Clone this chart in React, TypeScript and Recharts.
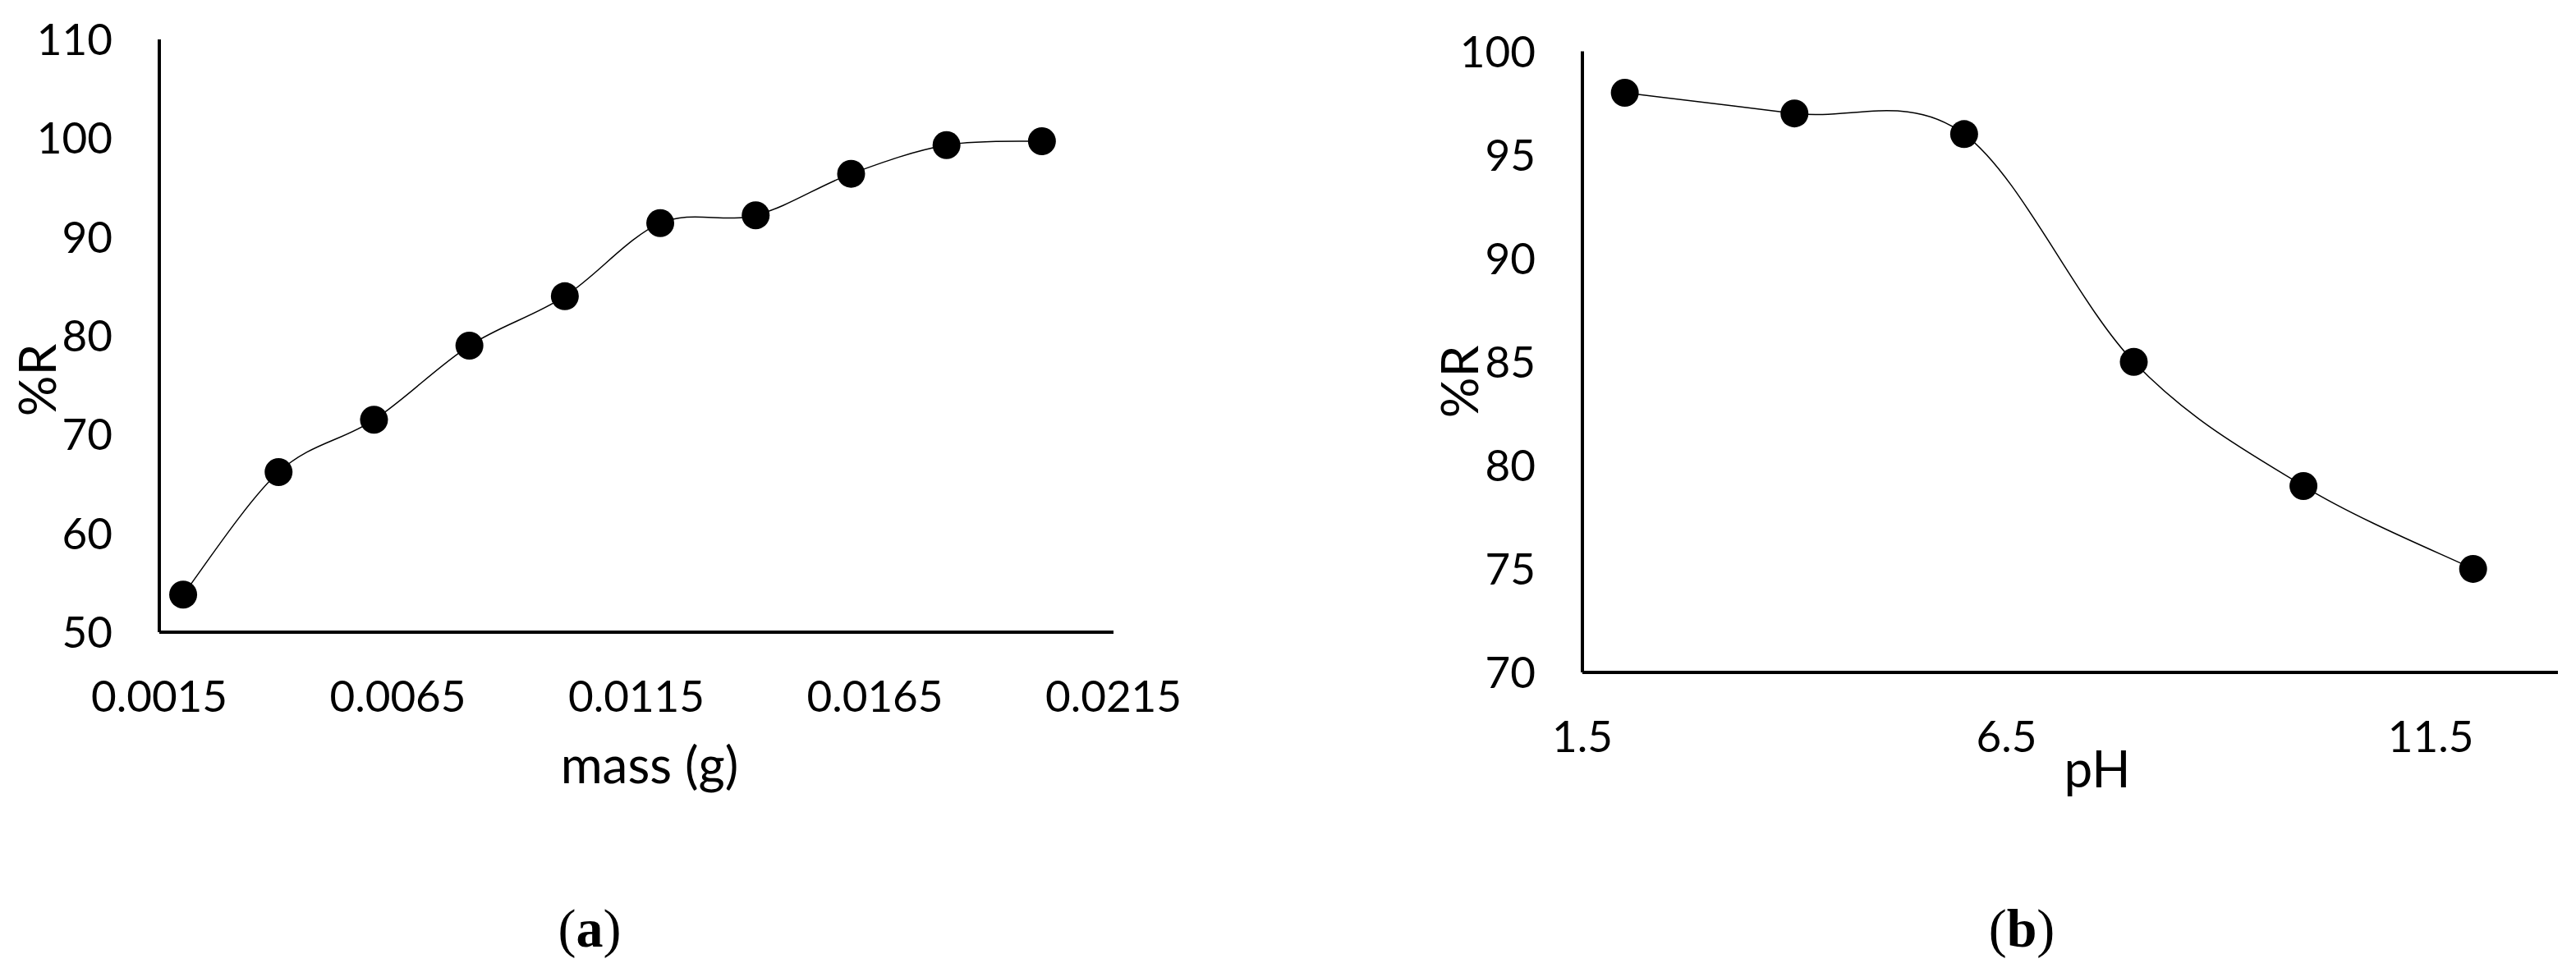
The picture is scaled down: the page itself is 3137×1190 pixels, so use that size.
import React from 'react';
import { LineChart, Line, XAxis, YAxis } from 'recharts';

// ---- data (a): removal vs adsorbent mass ----
const massValues = [0.002, 0.004, 0.006, 0.008, 0.01, 0.012, 0.014, 0.016, 0.018, 0.02];
const massRemoval = [53.8, 66.2, 71.5, 79.0, 84.0, 91.4, 92.2, 96.4, 99.3, 99.7];
const massTicks = [0.0015, 0.0065, 0.0115, 0.0165, 0.0215];
const massRemovalTicks = [50, 60, 70, 80, 90, 100, 110];

// ---- data (b): removal vs pH ----
const phValues = [2, 4, 6, 8, 10, 12];
const phRemoval = [98, 97, 96, 85, 79, 75];
const phTicks = [1.5, 6.5, 11.5];
const phRemovalTicks = [70, 75, 80, 85, 90, 95, 100];

const massData = massValues.map((x, i) => ({ x, r: massRemoval[i] }));
const phData = phValues.map((x, i) => ({ x, r: phRemoval[i] }));

const FONT = 'Lato, "Open Sans", sans-serif';
const TICK_SIZE = 53;
const TITLE_SIZE = 62;

// Excel-like smoothed line (Catmull-Rom through the points)
const smoothCurve = (context: any) => {
  let pts: number[][] = [];
  return {
    areaStart() {},
    areaEnd() {},
    lineStart() {
      pts = [];
    },
    point(x: number, y: number) {
      pts.push([+x, +y]);
    },
    lineEnd() {
      const n = pts.length;
      if (!n) return;
      context.moveTo(pts[0][0], pts[0][1]);
      for (let i = 0; i < n - 1; i++) {
        const p0 = pts[Math.max(i - 1, 0)];
        const p1 = pts[i];
        const p2 = pts[i + 1];
        const p3 = pts[Math.min(i + 2, n - 1)];
        context.bezierCurveTo(
          p1[0] + (p2[0] - p0[0]) / 6,
          p1[1] + (p2[1] - p0[1]) / 6,
          p2[0] - (p3[0] - p1[0]) / 6,
          p2[1] - (p3[1] - p1[1]) / 6,
          p2[0],
          p2[1]
        );
      }
    },
  };
};

const XTick = ({ x, y, payload }: any) => (
  <text x={x} y={y + 97} textAnchor="middle" fontFamily={FONT} fontSize={TICK_SIZE} fill="#000">
    {String(payload.value)}
  </text>
);

const YTick = ({ x, y, payload }: any) => (
  <text x={x - 57} y={y + 19} textAnchor="end" fontFamily={FONT} fontSize={TICK_SIZE} fill="#000">
    {String(payload.value)}
  </text>
);

const xTitle = (text: string, dx: number, dy: number) => (props: any) => {
  const vb = props.viewBox || {};
  return (
    <text
      x={vb.x + vb.width / 2 + dx}
      y={vb.y + dy}
      textAnchor="middle"
      fontFamily={FONT}
      fontSize={TITLE_SIZE}
      fill="#000"
    >
      {text}
    </text>
  );
};

const yTitle = (text: string, dx: number, absY: number) => (props: any) => {
  const vb = props.viewBox || {};
  const x = vb.x + dx;
  return (
    <text
      x={x}
      y={absY}
      transform={`rotate(-90, ${x}, ${absY})`}
      textAnchor="middle"
      fontFamily={FONT}
      fontSize={TITLE_SIZE}
      fill="#000"
    >
      {text}
    </text>
  );
};

const axisLine = { stroke: '#000', strokeWidth: 4 };
const dotStyle = { r: 17, fill: '#000', stroke: '#000', strokeWidth: 0 };

export default function App() {
  return (
    <div
      style={{
        position: 'absolute',
        left: 0,
        top: 0,
        width: 3137,
        height: 1190,
        background: '#fff',
        overflow: 'hidden',
      }}
    >
      <div style={{ position: 'absolute', left: 0, top: 0 }}>
        <LineChart width={1540} height={1000} data={massData} margin={{ top: 48, right: 184, bottom: 0, left: 0 }}>
          <XAxis
            dataKey="x"
            type="number"
            domain={[0.0015, 0.0215]}
            ticks={massTicks}
            allowDataOverflow
            height={230}
            tickLine={false}
            tickSize={0}
            tickMargin={0}
            axisLine={axisLine}
            tick={<XTick />}
            interval={0}
            label={{ content: xTitle('mass (g)', 16, 184) }}
          />
          <YAxis
            dataKey="r"
            type="number"
            domain={[50, 110]}
            ticks={massRemovalTicks}
            allowDataOverflow
            width={194}
            tickLine={false}
            tickSize={0}
            tickMargin={0}
            axisLine={axisLine}
            tick={<YTick />}
            interval={0}
            label={{ content: yTitle('%R', 68, 463) }}
          />
          <Line
            dataKey="r"
            type={smoothCurve as any}
            stroke="#000"
            strokeWidth={1.5}
            dot={dotStyle}
            activeDot={false}
            isAnimationActive={false}
          />
        </LineChart>
      </div>

      <div style={{ position: 'absolute', left: 1733, top: 0 }}>
        <LineChart width={1404} height={1000} data={phData} margin={{ top: 62.5, right: 22, bottom: 0, left: 0 }}>
          <XAxis
            dataKey="x"
            type="number"
            domain={[1.5, 13]}
            ticks={phTicks}
            allowDataOverflow
            height={181}
            tickLine={false}
            tickSize={0}
            tickMargin={0}
            axisLine={axisLine}
            tick={<XTick />}
            interval={0}
            label={{ content: xTitle('pH', 33, 140) }}
          />
          <YAxis
            dataKey="r"
            type="number"
            domain={[70, 100]}
            ticks={phRemovalTicks}
            allowDataOverflow
            width={194}
            tickLine={false}
            tickSize={0}
            tickMargin={0}
            axisLine={axisLine}
            tick={<YTick />}
            interval={0}
            label={{ content: yTitle('%R', 67, 465) }}
          />
          <Line
            dataKey="r"
            type={smoothCurve as any}
            stroke="#000"
            strokeWidth={1.5}
            dot={dotStyle}
            activeDot={false}
            isAnimationActive={false}
          />
        </LineChart>
      </div>

      <svg width={3137} height={1190} style={{ position: 'absolute', left: 0, top: 0, pointerEvents: 'none' }}>
        <text x={718} y={1153} textAnchor="middle" fontFamily='"Liberation Serif", serif' fontSize={66} fill="#000">
          (<tspan fontWeight="bold">a</tspan>)
        </text>
        <text x={2462} y={1153} textAnchor="middle" fontFamily='"Liberation Serif", serif' fontSize={66} fill="#000">
          (<tspan fontWeight="bold">b</tspan>)
        </text>
      </svg>
    </div>
  );
}
